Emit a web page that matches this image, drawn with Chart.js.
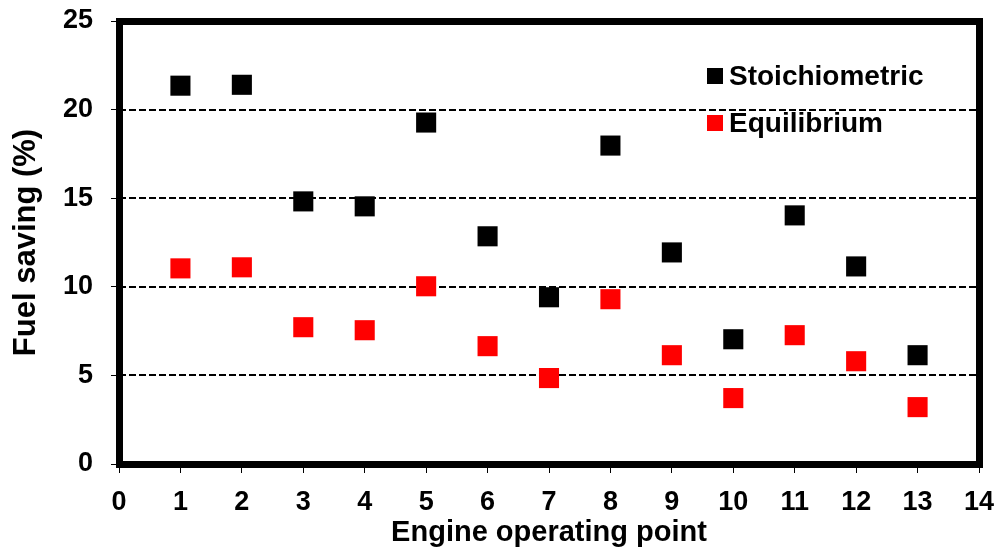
<!DOCTYPE html>
<html>
<head>
<meta charset="utf-8">
<script src="https://cdn.jsdelivr.net/npm/chart.js@4/dist/chart.umd.min.js"></script>
<style>
  html, body { margin: 0; padding: 0; background: #fff; }
  #wrap { width: 997px; height: 556px; position: relative; }
</style>
</head>
<body>
<div id="wrap"><canvas id="chart"></canvas></div>
<script>
const operatingPoints = [1, 2, 3, 4, 5, 6, 7, 8, 9, 10, 11, 12, 13];
const stoichiometric = [21.35, 21.4, 14.82, 14.54, 19.27, 12.85, 9.41, 17.97, 11.94, 7.04, 14.03, 11.15, 6.14];
const equilibrium = [11.04, 11.1, 7.72, 7.55, 10.03, 6.65, 4.85, 9.3, 6.14, 3.72, 7.27, 5.8, 3.21];
const seriesNames = ['Stoichiometric', 'Equilibrium'];
const seriesColors = ['#000000', '#ff0000'];
const xTicks = { min: 0, max: 14, step: 1 };
const yTicks = { min: 0, max: 25, step: 5 };

const FONT = '"Liberation Sans", Arial, sans-serif';

const toPoints = (vals) => vals.map((v, i) => ({ x: operatingPoints[i], y: v }));

// dashed gridlines, thick frame and the in-plot legend
const framePlugin = {
    id: 'frame',
    beforeDatasetsDraw(chart) {
        const { ctx, chartArea: a, scales: { y } } = chart;
        ctx.save();
        ctx.strokeStyle = '#000';
        ctx.lineWidth = 2;
        ctx.setLineDash([7, 3]);
        y.ticks.forEach(t => {
            if (t.value === yTicks.min || t.value === yTicks.max) return;
            const py = Math.round(y.getPixelForValue(t.value));
            ctx.beginPath();
            ctx.moveTo(a.left, py);
            ctx.lineTo(a.right, py);
            ctx.stroke();
        });
        ctx.restore();
    },
    afterDraw(chart) {
        const { ctx, chartArea: a } = chart;
        ctx.save();
        ctx.strokeStyle = '#000';
        ctx.lineWidth = 7;
        ctx.lineJoin = 'miter';
        ctx.strokeRect(a.left + 0.5, a.top + 0.5, a.right - a.left, a.bottom - a.top);

        // legend
        ctx.font = 'bold 28px ' + FONT;
        ctx.textBaseline = 'middle';
        ctx.textAlign = 'left';
        const rows = [76, 123];
        seriesNames.forEach((name, i) => {
            ctx.fillStyle = seriesColors[i];
            ctx.fillRect(707, rows[i] - 8, 16, 16);
            ctx.fillStyle = '#000';
            ctx.fillText(name, 729, rows[i] + 1);
        });
        ctx.restore();
    }
};

new Chart(document.getElementById('chart'), {
    type: 'scatter',
    data: {
        datasets: [
            {
                label: seriesNames[0],
                data: toPoints(stoichiometric),
                backgroundColor: seriesColors[0],
                borderWidth: 0,
                pointStyle: 'rect',
                pointRadius: 14.2,
                pointHoverRadius: 14.2
            },
            {
                label: seriesNames[1],
                data: toPoints(equilibrium),
                backgroundColor: seriesColors[1],
                borderWidth: 0,
                pointStyle: 'rect',
                pointRadius: 14.2,
                pointHoverRadius: 14.2
            }
        ]
    },
    options: {
        responsive: true,
        maintainAspectRatio: false,
        animation: false,
        layout: { autoPadding: false, padding: { left: 0, top: 21, right: 18, bottom: 0 } },
        plugins: {
            legend: { display: false },
            tooltip: { enabled: false }
        },
        scales: {
            x: {
                type: 'linear',
                min: xTicks.min,
                max: xTicks.max,
                afterFit: s => { s.height = 92; s.paddingLeft = 0; s.paddingRight = 0; },
                border: { display: false },
                grid: { drawOnChartArea: false, drawTicks: true, tickLength: 9, tickColor: '#000', tickWidth: 1 },
                ticks: {
                    stepSize: xTicks.step,
                    padding: 13,
                    color: '#000',
                    font: { family: FONT, size: 27, weight: 'bold' }
                },
                title: {
                    display: true,
                    text: 'Engine operating point',
                    color: '#000',
                    padding: { top: 0, bottom: 6 },
                    font: { family: FONT, size: 29, weight: 'bold' }
                }
            },
            y: {
                type: 'linear',
                min: yTicks.min,
                max: yTicks.max,
                afterFit: s => { s.width = 119; s.paddingTop = 0; s.paddingBottom = 0; },
                border: { display: false },
                grid: { drawOnChartArea: false, drawTicks: true, tickLength: 8, tickColor: '#000', tickWidth: 1 },
                ticks: {
                    stepSize: yTicks.step,
                    padding: 18,
                    color: '#000',
                    font: { family: FONT, size: 27, weight: 'bold' }
                },
                title: {
                    display: true,
                    text: 'Fuel saving (%)',
                    color: '#000',
                    padding: { top: 8, bottom: 0 },
                    font: { family: FONT, size: 31, weight: 'bold' }
                }
            }
        }
    },
    plugins: [framePlugin]
});
</script>
</body>
</html>
